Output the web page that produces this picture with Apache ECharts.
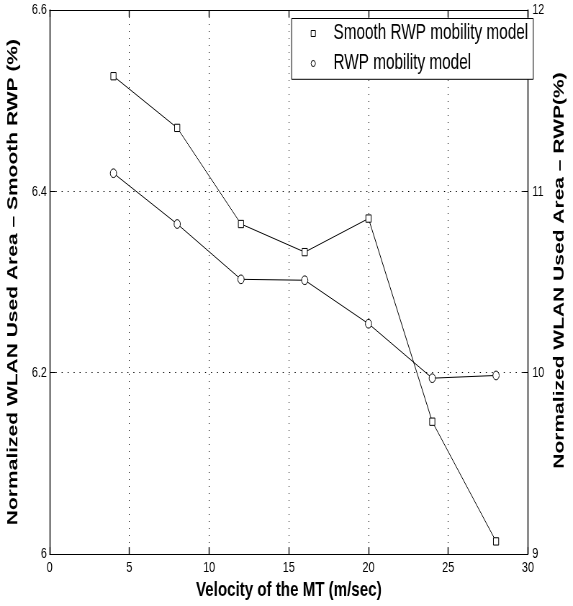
<!DOCTYPE html>
<html>
<head>
<meta charset="utf-8">
<script src="https://cdn.jsdelivr.net/npm/echarts@6/dist/echarts.min.js"></script>
<style>
  html, body { margin: 0; padding: 0; background: #fff; overflow: hidden; }
  #wrap { width: 573px; height: 606px; overflow: hidden; }
  /* the figure is laid out wider and squeezed horizontally, like the exported plot */
  #chart { width: 796px; height: 606px; transform: scaleX(0.7198); transform-origin: 0 0; }
</style>
</head>
<body>
<div id="wrap"><div id="chart"></div></div>
<script>
// Velocity of the mobile terminal (m/sec)
const velocity = [4, 8, 12, 16, 20, 24, 28];
// Normalized WLAN used area, Smooth RWP mobility model (%), left axis
const smoothRwp = [6.527, 6.470, 6.364, 6.333, 6.370, 6.146, 6.014];
// Normalized WLAN used area, RWP mobility model (%), right axis
const rwp = [11.10, 10.82, 10.515, 10.51, 10.27, 9.97, 9.985];

const seriesNames = ['Smooth RWP mobility model', 'RWP mobility model'];
const xRange = [0, 30, 5];
const leftRange = [6, 6.6, 0.2];
const rightRange = [9, 12, 1];

const FONT = 'Liberation Sans, Arial, Helvetica, sans-serif';
const BLACK = '#000';

const chart = echarts.init(document.getElementById('chart'), null, { renderer: 'canvas' });

const dotted = { color: BLACK, width: 1, type: [1, 6] };
const tickLabel = { color: BLACK, fontSize: 15, fontFamily: FONT };
const nameStyle = { color: BLACK, fontSize: 21, fontWeight: 'bold', fontFamily: FONT };

chart.setOption({
  animation: false,
  backgroundColor: '#fff',
  grid: { left: 68.1, right: 47.4, top: 10, bottom: 49, containLabel: false },
  legend: {
    orient: 'vertical',
    left: 405.1,
    top: 18.5,
    padding: [4.5, 7, 5.3, 26.6],
    itemGap: 9,
    itemWidth: 6,
    itemHeight: 6,
    borderColor: BLACK,
    borderWidth: 1,
    backgroundColor: '#fff',
    selectedMode: false,
    itemStyle: { color: '#fff', borderColor: BLACK, borderWidth: 1 },
    textStyle: { color: BLACK, fontSize: 21.3, fontFamily: FONT, padding: [0, 0, 0, 20] },
    data: [
      { name: seriesNames[0], icon: 'rect' },
      { name: seriesNames[1], icon: 'circle' }
    ]
  },
  xAxis: [
    {
      type: 'value', position: 'bottom',
      min: xRange[0], max: xRange[1], interval: xRange[2],
      axisLine: { onZero: false, lineStyle: { color: BLACK, width: 1 } },
      axisTick: { inside: true, length: 7, lineStyle: { color: BLACK, width: 1.4 } },
      axisLabel: Object.assign({ margin: 6 }, tickLabel),
      splitLine: { show: true, lineStyle: dotted },
      name: 'Velocity of the MT (m/sec)',
      nameLocation: 'middle', nameGap: 24,
      nameTextStyle: nameStyle
    },
    {
      type: 'value', position: 'top',
      min: xRange[0], max: xRange[1], interval: xRange[2],
      axisLine: { onZero: false, lineStyle: { color: BLACK, width: 1 } },
      axisTick: { inside: true, length: 7, lineStyle: { color: BLACK, width: 1.4 } },
      axisLabel: { show: false },
      splitLine: { show: false }
    }
  ],
  yAxis: [
    {
      type: 'value', position: 'left',
      min: leftRange[0], max: leftRange[1], interval: leftRange[2],
      axisLine: { show: true, onZero: false, lineStyle: { color: BLACK, width: 1.4 } },
      axisTick: { show: true, inside: true, length: 8, lineStyle: { color: BLACK, width: 1 } },
      axisLabel: Object.assign({ margin: 4 }, tickLabel),
      splitLine: { show: true, lineStyle: { color: BLACK, width: 1, type: [1.5, 6.8] } },
      name: 'Normalized WLAN Used Area \u2013 Smooth RWP (%)',
      nameLocation: 'middle', nameRotate: 90, nameGap: 40,
      nameTextStyle: nameStyle
    },
    {
      type: 'value', position: 'right',
      min: rightRange[0], max: rightRange[1], interval: rightRange[2],
      axisLine: { show: true, onZero: false, lineStyle: { color: BLACK, width: 1.4 } },
      axisTick: { show: true, inside: true, length: 7, lineStyle: { color: BLACK, width: 1 } },
      axisLabel: Object.assign({ margin: 6 }, tickLabel),
      splitLine: { show: false },
      name: 'Normalized WLAN Used Area \u2013 RWP(%)',
      nameLocation: 'middle', nameRotate: 90, nameGap: 24,
      nameTextStyle: Object.assign({ padding: [0, 0, 0, 23] }, nameStyle)
    }
  ],
  series: [
    {
      name: seriesNames[0],
      type: 'line', xAxisIndex: 0, yAxisIndex: 0,
      data: velocity.map((v, i) => [v, smoothRwp[i]]),
      symbol: 'rect', symbolSize: 7.3,
      itemStyle: { color: '#fff', borderColor: BLACK, borderWidth: 1 },
      lineStyle: { color: BLACK, width: 1 },
      emphasis: { disabled: true },
      z: 3
    },
    {
      name: seriesNames[1],
      type: 'line', xAxisIndex: 0, yAxisIndex: 1,
      data: velocity.map((v, i) => [v, rwp[i]]),
      symbol: 'circle', symbolSize: 8.7,
      itemStyle: { color: '#fff', borderColor: BLACK, borderWidth: 1 },
      lineStyle: { color: BLACK, width: 1 },
      emphasis: { disabled: true },
      z: 3
    }
  ]
});
</script>
</body>
</html>
